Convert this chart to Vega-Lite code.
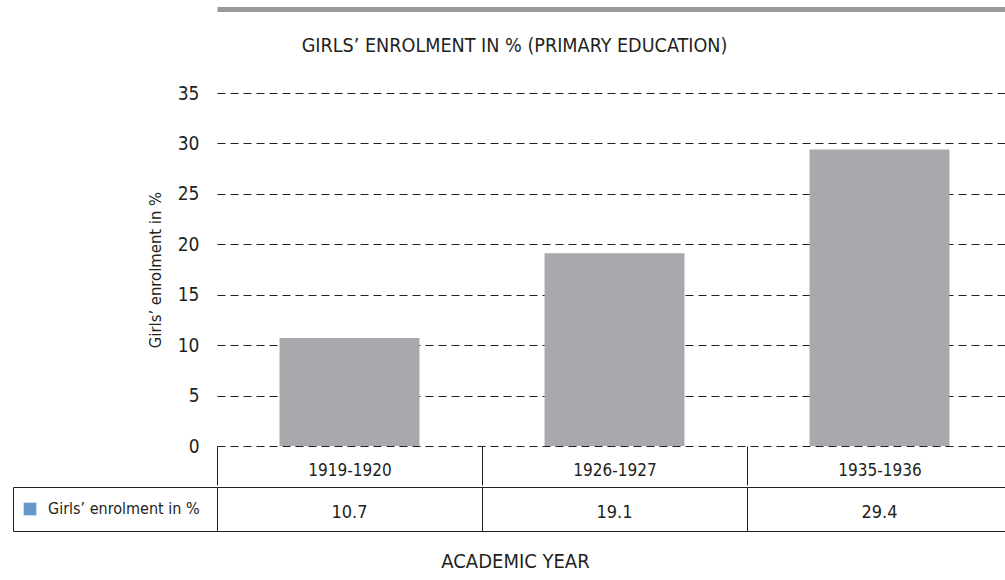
{
  "$schema": "https://vega.github.io/schema/vega-lite/v6.json",
  "padding": {"left": 12, "top": 9, "right": 0, "bottom": 0},
  "background": "white",
  "config": {
    "font": "DejaVu Sans Condensed, Roboto, sans-serif",
    "view": {"stroke": null},
    "axis": {"labelColor": "#231f20", "titleColor": "#231f20", "labelFont": "DejaVu Sans Condensed, Roboto, sans-serif", "titleFont": "DejaVu Sans Condensed, Roboto, sans-serif", "titleFontWeight": "normal"},
    "legend": {"labelFont": "DejaVu Sans Condensed, Roboto, sans-serif"},
    "title": {"font": "DejaVu Sans Condensed, Roboto, sans-serif", "color": "#231f20", "fontWeight": "normal"}
  },
  "data": {
    "values": [
      {"year": "1919-1920", "value": 10.7, "series": "Girls’ enrolment in %"},
      {"year": "1926-1927", "value": 19.1, "series": "Girls’ enrolment in %"},
      {"year": "1935-1936", "value": 29.4, "series": "Girls’ enrolment in %"}
    ]
  },
  "spacing": 0,
  "resolve": {"legend": {"color": "independent"}},
  "vconcat": [
    {
      "width": 795,
      "height": 353,
      "title": {"text": "GIRLS’ ENROLMENT IN % (PRIMARY EDUCATION)", "fontSize": 19.6, "anchor": "middle", "frame": "group", "dx": -100, "baseline": "alphabetic", "offset": -63},
      "resolve": {"axis": {"x": "independent"}},
      "layer": [
        {
          "mark": {"type": "bar", "color": "#a7a9ac", "width": {"band": 0.528}},
          "encoding": {
            "x": {"field": "year", "type": "nominal", "sort": null,
              "scale": {"paddingInner": 0, "paddingOuter": 0},
              "axis": {"orient": "bottom", "title": null, "labelAngle": 0, "domain": false, "ticks": true, "tickBand": "extent", "tickSize": 39, "tickColor": "#231f20", "tickWidth": 1, "labelFontSize": 17, "labelBaseline": "middle", "labelPadding": -15}},
            "y": {"field": "value", "type": "quantitative",
              "scale": {"domain": [0, 35], "nice": false},
              "axis": {"title": "Girls’ enrolment in %", "titleFontSize": 16.5, "titlePadding": 14, "values": [0, 5, 10, 15, 20, 25, 30, 35], "domain": false, "ticks": false, "labelPadding": 18, "labelFontSize": 19, "grid": true, "gridDash": [8, 5], "gridColor": "#231f20", "gridWidth": 1}}
          }
        },
        {
          "mark": {"type": "rule", "opacity": 0},
          "encoding": {
            "x": {"field": "year", "type": "nominal", "sort": null,
              "axis": {"orient": "top", "title": null, "labels": false, "ticks": false, "grid": false, "domain": true, "domainColor": "#98999b", "domainWidth": 5, "offset": 84}}
          }
        }
      ]
    },
    {
      "width": 795,
      "height": 44,
      "view": {"stroke": "#231f20", "strokeWidth": 1},
      "layer": [
        {
          "mark": {"type": "text", "fontSize": 18, "color": "#231f20", "dy": 4},
          "encoding": {
            "x": {"field": "year", "type": "nominal", "sort": null,
              "scale": {"paddingInner": 0, "paddingOuter": 0},
              "axis": {"title": "ACADEMIC YEAR", "titleFontSize": 20, "titlePadding": 20, "titleX": 298, "labels": false, "ticks": false, "domain": false, "grid": true, "tickBand": "extent", "gridColor": "#231f20", "gridWidth": 1, "gridDash": []}},
            "y": {"field": "series", "type": "nominal",
              "axis": {"title": null, "labels": false, "domain": true, "domainColor": "#231f20", "domainWidth": 1, "offset": 204, "ticks": true, "tickSize": -204, "tickBand": "extent", "tickColor": "#231f20", "tickWidth": 1}},
            "text": {"field": "value", "type": "quantitative", "format": ".1f"}
          }
        },
        {
          "mark": {"type": "square", "opacity": 0},
          "encoding": {
            "color": {"field": "series", "type": "nominal",
              "scale": {"range": ["#6497cb"]},
              "legend": {"title": null, "orient": "none", "legendX": -195, "legendY": 14, "padding": 0, "symbolType": "square", "symbolSize": 160, "symbolOpacity": 1, "symbolStrokeWidth": 0, "labelFontSize": 16, "labelColor": "#231f20", "labelOffset": 10, "labelLimit": 300}}
          }
        }
      ]
    }
  ]
}
